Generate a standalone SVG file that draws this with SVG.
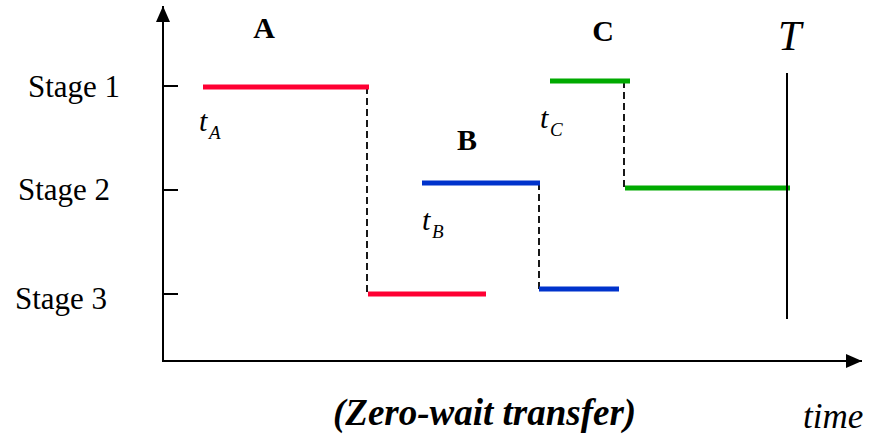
<svg xmlns="http://www.w3.org/2000/svg" width="880" height="437" viewBox="0 0 880 437">
  <style>
    .axis { stroke: #000; stroke-width: 2; fill: none; }
    .tick { stroke: #000; stroke-width: 2; }
    .seg { stroke-width: 5; fill: none; }
    .red { stroke: #FF0033; }
    .blue { stroke: #0033CC; }
    .green { stroke: #00AA00; }
    .dash { stroke: #000; stroke-width: 1.8; stroke-dasharray: 7 4; fill: none; }
    .stage { font-family: "Liberation Serif", "Times New Roman", serif; font-size: 31px; fill: #000; }
    .job { font-family: "Liberation Serif", "Times New Roman", serif; font-size: 30px; font-weight: bold; fill: #000; text-anchor: middle; }
    .it { font-family: "Liberation Serif", "Times New Roman", serif; font-style: italic; fill: #000; }
  </style>
  <defs>
    <marker id="arrow" viewBox="0 0 16 14" refX="16" refY="7" markerWidth="16" markerHeight="14" markerUnits="userSpaceOnUse" orient="auto">
      <path d="M0,0 L16,7 L0,14 Z" fill="#000"/>
    </marker>
  </defs>

  <rect width="880" height="437" fill="#fff"/>

  <!-- axes -->
  <g id="axes">
    <line class="axis" x1="163" y1="361" x2="163" y2="6" marker-end="url(#arrow)"/>
    <line class="axis" x1="162" y1="361" x2="862" y2="361" marker-end="url(#arrow)"/>
    <line class="tick" x1="163" y1="86" x2="178" y2="86"/>
    <line class="tick" x1="163" y1="190" x2="178" y2="190"/>
    <line class="tick" x1="163" y1="294" x2="178" y2="294"/>
  </g>

  <!-- stage labels -->
  <g id="stage-labels">
    <text class="stage" x="28" y="97">Stage 1</text>
    <text class="stage" x="18" y="200">Stage 2</text>
    <text class="stage" x="15" y="309">Stage 3</text>
  </g>

  <!-- transfers between stages -->
  <g id="connectors">
    <line class="dash" x1="367" y1="87" x2="367" y2="294"/>
    <line class="dash" x1="539" y1="183" x2="539" y2="289"/>
    <line class="dash" x1="624" y1="81" x2="624" y2="188"/>
  </g>

  <!-- job A -->
  <g id="job-A">
    <line class="seg red" x1="203" y1="87" x2="369" y2="87"/>
    <line class="seg red" x1="368" y1="294" x2="486" y2="294"/>
    <text class="job" x="264" y="38">A</text>
    <text class="it" x="199" y="131" font-size="30">t</text>
    <text class="it" x="209" y="139" font-size="19">A</text>
  </g>

  <!-- job B -->
  <g id="job-B">
    <line class="seg blue" x1="422" y1="183" x2="540" y2="183"/>
    <line class="seg blue" x1="539" y1="289" x2="619" y2="289"/>
    <text class="job" x="467" y="150">B</text>
    <text class="it" x="422" y="230" font-size="30">t</text>
    <text class="it" x="432" y="238" font-size="19">B</text>
  </g>

  <!-- job C -->
  <g id="job-C">
    <line class="seg green" x1="550" y1="81" x2="630" y2="81"/>
    <line class="seg green" x1="625" y1="188" x2="790" y2="188"/>
    <text class="job" x="603" y="41">C</text>
    <text class="it" x="540" y="128" font-size="30">t</text>
    <text class="it" x="550" y="136" font-size="19">C</text>
  </g>

  <!-- horizon -->
  <g id="horizon">
    <line x1="787" y1="73" x2="787" y2="319" stroke="#000" stroke-width="2"/>
    <text class="it" x="778" y="50" font-size="42">T</text>
  </g>

  <text class="it" x="333" y="425" font-size="37" font-weight="bold">(Zero-wait transfer)</text>
  <text class="it" x="803" y="428" font-size="35">time</text>
</svg>
